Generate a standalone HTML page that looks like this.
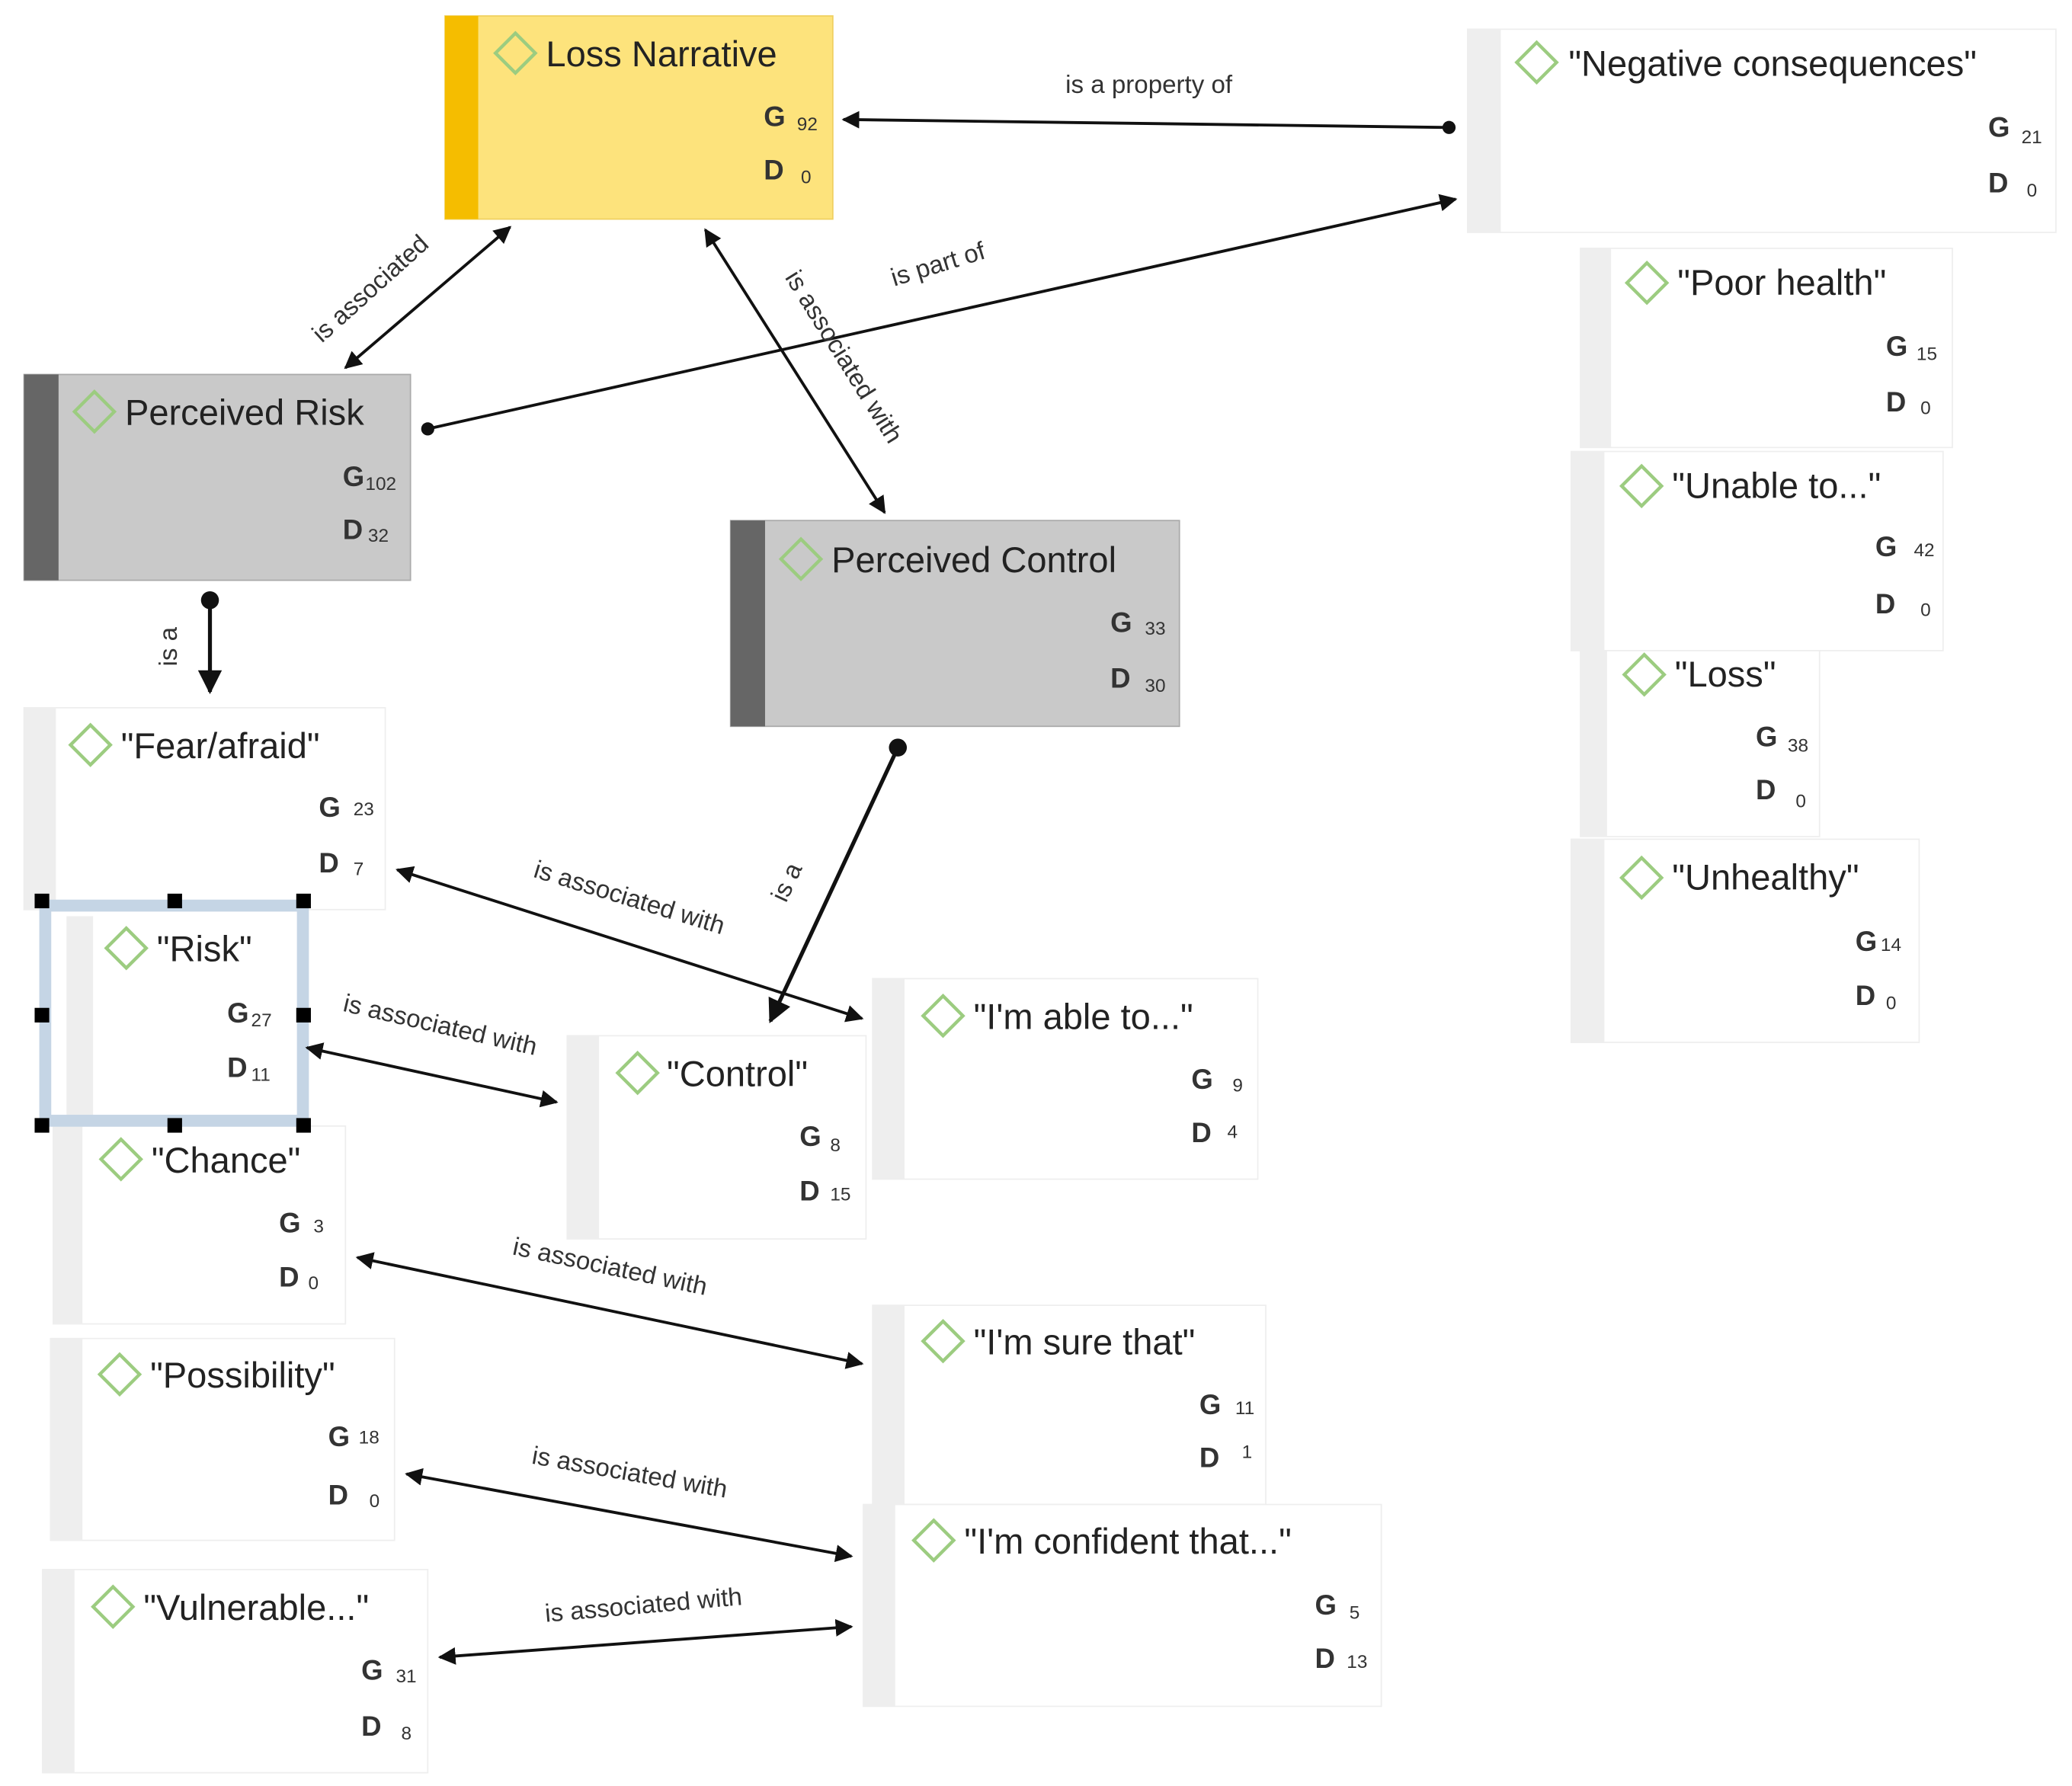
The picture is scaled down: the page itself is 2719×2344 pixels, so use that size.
<!DOCTYPE html>
<html><head><meta charset="utf-8"><style>
html,body{margin:0;padding:0;background:#fff;}
svg{display:block;}
text{font-family:"Liberation Sans",sans-serif;fill:#222;}
.t{font-size:27px;}
.g{font-size:21px;font-weight:bold;fill:#333;}
.s{font-size:14px;fill:#333;}
.l{font-size:19px;fill:#333;}
</style></head><body>
<svg width="2719" height="2344" viewBox="0 0 1560 1345" xmlns="http://www.w3.org/2000/svg">
<defs>
<marker id="a" viewBox="0 0 10 10" refX="9" refY="5" markerWidth="6" markerHeight="6" orient="auto-start-reverse"><path d="M0,0 L10,5 L0,10 z" fill="#111"/></marker>
<marker id="d" viewBox="0 0 10 10" refX="5" refY="5" markerWidth="5" markerHeight="5"><circle cx="5" cy="5" r="4.5" fill="#111"/></marker>
<g id="dm"><path d="M0,-15 L15,0 L0,15 L-15,0 Z" fill="none" stroke="#9ccc80" stroke-width="2.5"/></g>
</defs>

<g>
<rect x="1105" y="22" width="443" height="153" fill="#fff" stroke="#eee"/><rect x="1105" y="22" width="25" height="153" fill="#eee"/>
<rect x="1190" y="187" width="280" height="150" fill="#fff" stroke="#eee"/><rect x="1190" y="187" width="23" height="150" fill="#eee"/>
<rect x="1183" y="340" width="280" height="150" fill="#fff" stroke="#eee"/><rect x="1183" y="340" width="25" height="150" fill="#eee"/>
<rect x="1190" y="490" width="180" height="140" fill="#fff" stroke="#eee"/><rect x="1190" y="490" width="20" height="140" fill="#eee"/>
<rect x="1183" y="632" width="262" height="153" fill="#fff" stroke="#eee"/><rect x="1183" y="632" width="25" height="153" fill="#eee"/>
<rect x="18" y="533" width="272" height="152" fill="#fff" stroke="#eee"/><rect x="18" y="533" width="24" height="152" fill="#eee"/>
<rect x="40" y="848" width="220" height="149" fill="#fff" stroke="#eee"/><rect x="40" y="848" width="22" height="149" fill="#eee"/>
<rect x="38" y="1008" width="259" height="152" fill="#fff" stroke="#eee"/><rect x="38" y="1008" width="24" height="152" fill="#eee"/>
<rect x="32" y="1182" width="290" height="153" fill="#fff" stroke="#eee"/><rect x="32" y="1182" width="24" height="153" fill="#eee"/>
<rect x="427" y="780" width="225" height="153" fill="#fff" stroke="#eee"/><rect x="427" y="780" width="24" height="153" fill="#eee"/>
<rect x="657" y="737" width="290" height="151" fill="#fff" stroke="#eee"/><rect x="657" y="737" width="24" height="151" fill="#eee"/>
<rect x="657" y="983" width="296" height="150" fill="#fff" stroke="#eee"/><rect x="657" y="983" width="24" height="150" fill="#eee"/>
<rect x="650" y="1133" width="390" height="152" fill="#fff" stroke="#eee"/><rect x="650" y="1133" width="24" height="152" fill="#eee"/>
</g>
<rect x="30" y="678" width="202" height="170" fill="#fff"/>
<rect x="50" y="690" width="20" height="150" fill="#eee"/>
<rect x="34" y="682" width="194" height="162" fill="none" stroke="#c5d5e5" stroke-width="9"/>
<g fill="#000">
<rect x="26" y="673" width="11" height="11"/><rect x="126" y="673" width="11" height="11"/><rect x="223" y="673" width="11" height="11"/>
<rect x="26" y="759" width="11" height="11"/><rect x="223" y="759" width="11" height="11"/>
<rect x="26" y="842" width="11" height="11"/><rect x="126" y="842" width="11" height="11"/><rect x="223" y="842" width="11" height="11"/>
</g>

<rect x="335" y="12" width="292" height="153" fill="#fde37c" stroke="#f0d060"/><rect x="335" y="12" width="25" height="153" fill="#f5bd00"/>
<rect x="18" y="282" width="291" height="155" fill="#c9c9c9" stroke="#aaa"/><rect x="18" y="282" width="26" height="155" fill="#666"/>
<rect x="550" y="392" width="338" height="155" fill="#c9c9c9" stroke="#aaa"/><rect x="550" y="392" width="26" height="155" fill="#666"/>

<g stroke="#111" stroke-width="2.2" fill="none">
<line x1="1091" y1="96" x2="635" y2="90" marker-start="url(#d)" marker-end="url(#a)"/>
<line x1="322" y1="323" x2="1096" y2="150" marker-start="url(#d)" marker-end="url(#a)"/>
<line x1="260" y1="277" x2="384" y2="171" marker-start="url(#a)" marker-end="url(#a)"/>
<line x1="531" y1="173" x2="666" y2="386" marker-start="url(#a)" marker-end="url(#a)"/>
<line x1="158" y1="452" x2="158" y2="521" stroke-width="3" marker-start="url(#d)" marker-end="url(#a)"/>
<line x1="676" y1="563" x2="580" y2="769" stroke-width="3" marker-start="url(#d)" marker-end="url(#a)"/>
<line x1="299" y1="655" x2="649" y2="767" marker-start="url(#a)" marker-end="url(#a)"/>
<line x1="231" y1="789" x2="419" y2="830" marker-start="url(#a)" marker-end="url(#a)"/>
<line x1="269" y1="947" x2="649" y2="1027" marker-start="url(#a)" marker-end="url(#a)"/>
<line x1="306" y1="1110" x2="641" y2="1172" marker-start="url(#a)" marker-end="url(#a)"/>
<line x1="331" y1="1248" x2="641" y2="1225" marker-start="url(#a)" marker-end="url(#a)"/>
</g>
<text class="l" x="865" y="70" text-anchor="middle">is a property of</text>
<text class="l" transform="translate(708,205) rotate(-17)" text-anchor="middle">is part of</text>
<text class="l" transform="translate(283,222) rotate(-42)" text-anchor="middle">is associated</text>
<text class="l" transform="translate(630,272) rotate(58)" text-anchor="middle">is associated with</text>
<text class="l" transform="translate(133,487) rotate(-90)" text-anchor="middle">is a</text>
<text class="l" transform="translate(598,667) rotate(-65)" text-anchor="middle">is a</text>
<text class="l" transform="translate(472,682) rotate(17)" text-anchor="middle">is associated with</text>
<text class="l" transform="translate(330,778) rotate(13)" text-anchor="middle">is associated with</text>
<text class="l" transform="translate(458,960) rotate(12)" text-anchor="middle">is associated with</text>
<text class="l" transform="translate(473,1115) rotate(10)" text-anchor="middle">is associated with</text>
<text class="l" transform="translate(485,1215) rotate(-5)" text-anchor="middle">is associated with</text>

<g>
<use href="#dm" x="388" y="40"/><text class="t" x="411" y="50">Loss Narrative</text>
<text class="g" x="575" y="95">G</text><text class="s" x="600" y="98">92</text>
<text class="g" x="575" y="135">D</text><text class="s" x="603" y="138">0</text>

<use href="#dm" x="71" y="310"/><text class="t" x="94" y="320">Perceived Risk</text>
<text class="g" x="258" y="366">G</text><text class="s" x="275" y="369">102</text>
<text class="g" x="258" y="406">D</text><text class="s" x="277" y="408">32</text>

<use href="#dm" x="603" y="421"/><text class="t" x="626" y="431">Perceived Control</text>
<text class="g" x="836" y="476">G</text><text class="s" x="862" y="478">33</text>
<text class="g" x="836" y="518">D</text><text class="s" x="862" y="521">30</text>

<use href="#dm" x="1157" y="47"/><text class="t" x="1181" y="57">"Negative consequences"</text>
<text class="g" x="1497" y="103">G</text><text class="s" x="1522" y="108">21</text>
<text class="g" x="1497" y="145">D</text><text class="s" x="1526" y="148">0</text>

<use href="#dm" x="1240" y="213"/><text class="t" x="1263" y="222">"Poor health"</text>
<text class="g" x="1420" y="268">G</text><text class="s" x="1443" y="271">15</text>
<text class="g" x="1420" y="310">D</text><text class="s" x="1446" y="312">0</text>

<use href="#dm" x="1236" y="366"/><text class="t" x="1259" y="375">"Unable to..."</text>
<text class="g" x="1412" y="419">G</text><text class="s" x="1441" y="419">42</text>
<text class="g" x="1412" y="462">D</text><text class="s" x="1446" y="464">0</text>

<use href="#dm" x="1238" y="508"/><text class="t" x="1261" y="517">"Loss"</text>
<text class="g" x="1322" y="562">G</text><text class="s" x="1346" y="566">38</text>
<text class="g" x="1322" y="602">D</text><text class="s" x="1352" y="608">0</text>

<use href="#dm" x="1236" y="661"/><text class="t" x="1259" y="670">"Unhealthy"</text>
<text class="g" x="1397" y="716">G</text><text class="s" x="1416" y="716">14</text>
<text class="g" x="1397" y="757">D</text><text class="s" x="1420" y="760">0</text>

<use href="#dm" x="68" y="561"/><text class="t" x="91" y="571">"Fear/afraid"</text>
<text class="g" x="240" y="615">G</text><text class="s" x="266" y="614">23</text>
<text class="g" x="240" y="657">D</text><text class="s" x="266" y="659">7</text>

<use href="#dm" x="95" y="714"/><text class="t" x="118" y="724">"Risk"</text>
<text class="g" x="171" y="770">G</text><text class="s" x="189" y="773">27</text>
<text class="g" x="171" y="811">D</text><text class="s" x="189" y="814">11</text>

<use href="#dm" x="91" y="873"/><text class="t" x="114" y="883">"Chance"</text>
<text class="g" x="210" y="928">G</text><text class="s" x="236" y="928">3</text>
<text class="g" x="210" y="969">D</text><text class="s" x="232" y="971">0</text>

<use href="#dm" x="90" y="1035"/><text class="t" x="113" y="1045">"Possibility"</text>
<text class="g" x="247" y="1089">G</text><text class="s" x="270" y="1087">18</text>
<text class="g" x="247" y="1133">D</text><text class="s" x="278" y="1135">0</text>

<use href="#dm" x="85" y="1210"/><text class="t" x="108" y="1220">"Vulnerable..."</text>
<text class="g" x="272" y="1265">G</text><text class="s" x="298" y="1267">31</text>
<text class="g" x="272" y="1307">D</text><text class="s" x="302" y="1310">8</text>

<use href="#dm" x="480" y="808"/><text class="t" x="502" y="818">"Control"</text>
<text class="g" x="602" y="863">G</text><text class="s" x="625" y="867">8</text>
<text class="g" x="602" y="904">D</text><text class="s" x="625" y="904">15</text>

<use href="#dm" x="710" y="765"/><text class="t" x="733" y="775">"I'm able to..."</text>
<text class="g" x="897" y="820">G</text><text class="s" x="928" y="822">9</text>
<text class="g" x="897" y="860">D</text><text class="s" x="924" y="857">4</text>

<use href="#dm" x="710" y="1010"/><text class="t" x="733" y="1020">"I'm sure that"</text>
<text class="g" x="903" y="1065">G</text><text class="s" x="930" y="1065">11</text>
<text class="g" x="903" y="1105">D</text><text class="s" x="935" y="1098">1</text>

<use href="#dm" x="703" y="1160"/><text class="t" x="726" y="1170">"I'm confident that..."</text>
<text class="g" x="990" y="1216">G</text><text class="s" x="1016" y="1219">5</text>
<text class="g" x="990" y="1256">D</text><text class="s" x="1014" y="1256">13</text>
</g>
</svg>
</body></html>
